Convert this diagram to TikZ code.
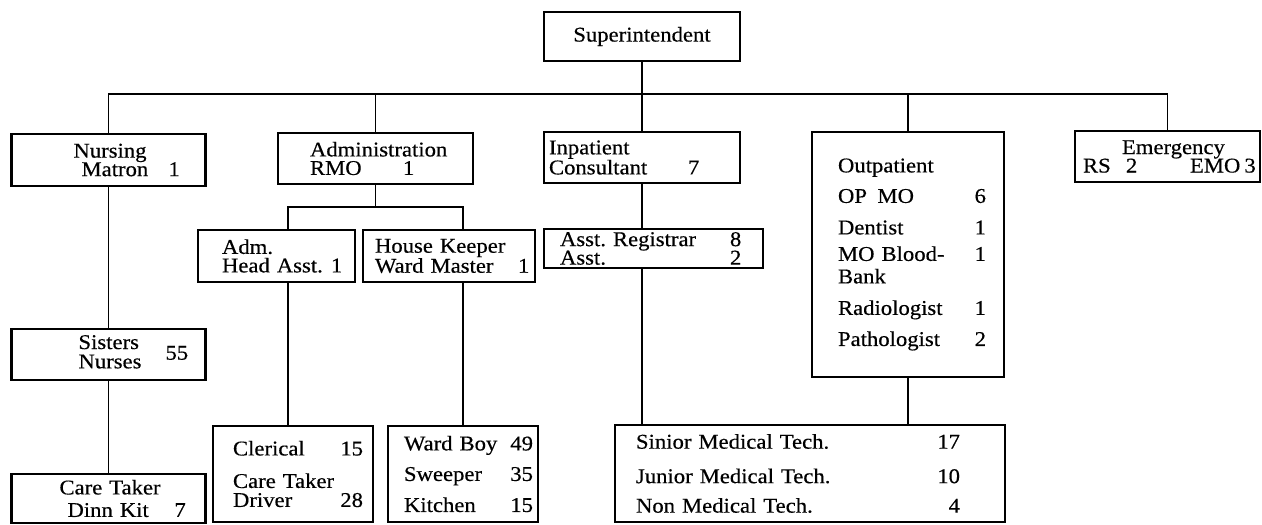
\documentclass[tikz,border=0pt]{standalone}
\usepackage{fontspec}
\setmainfont{Liberation Serif}[FakeStretch=1.08, FakeBold=0.4]
\setlength{\parindent}{0pt}
\setlength{\lineskiplimit}{-100pt}
\frenchspacing
\begin{document}
\begin{tikzpicture}[x=1pt, y=-1pt, line width=1.6pt, font=\fontsize{21}{18.5}\selectfont]
\tikzset{
	orgbox/.style={draw, line width=2.1pt, inner sep=0pt, align=left},
	orgtop/.style={draw, line width=2.1pt, inner sep=0pt, align=center}
}
\useasboundingbox (0,0) rectangle (1262,525);

\node[orgtop, minimum width=196pt, minimum height=49pt] (sup) at (642,36.5) {Superintendent};

\node[orgbox, text width=194pt, minimum height=52pt] (nurs) at (108.5,160)
{\hspace*{62pt}Nursing\\
\hspace*{70pt}\makebox[87pt][l]{Matron}1};

\node[orgbox, text width=195pt, minimum height=51pt] (admin) at (375.5,158.5)
{\hspace*{32pt}Administration\\
\hspace*{32pt}\makebox[93pt][l]{RMO}1};

\node[orgbox, text width=196pt, minimum height=51pt] (inp) at (642,157.5)
{\hspace*{5pt}Inpatient\\
\hspace*{5pt}\makebox[139pt][l]{Consultant}7};

\node[orgbox, text width=192pt, minimum height=245pt] (outp) at (908,254.5)
{\hspace*{26pt}Outpatient\\[12pt]
\hspace*{26pt}\makebox[138pt][l]{OP\enspace MO}\makebox[10pt][r]{6}\\[13pt]
\hspace*{26pt}\makebox[138pt][l]{Dentist}\makebox[10pt][r]{1}\\[8pt]
\hspace*{26pt}\makebox[138pt][l]{MO Blood-}\makebox[10pt][r]{1}\\[4pt]
\hspace*{26pt}Bank\\[13pt]
\hspace*{26pt}\makebox[138pt][l]{Radiologist}\makebox[10pt][r]{1}\\[11pt]
\hspace*{26pt}\makebox[138pt][l]{Pathologist}\makebox[10pt][r]{2}};

\node[orgbox, text width=185pt, minimum height=51pt] (emer) at (1167.5,156.5)
{\hspace*{47pt}Emergency\\
\hspace*{8pt}\makebox[43pt][l]{RS}\makebox[64pt][l]{2}EMO\hspace{4pt}3};

\node[orgbox, text width=157pt, minimum height=52pt] (adm) at (276.5,256)
{\hspace*{24pt}Adm.\\
\hspace*{24pt}\makebox[109pt][l]{Head Asst.}1};

\node[orgbox, text width=172pt, minimum height=52pt] (house) at (449,256)
{\hspace*{12pt}House Keeper\\
\hspace*{12pt}\makebox[143pt][l]{Ward Master}1};

\node[orgbox, text width=219pt, minimum height=39pt] (asst) at (653.5,248.5)
{\hspace*{16pt}\makebox[170pt][l]{Asst. Registrar}8\\
\hspace*{16pt}\makebox[170pt][l]{Asst.}2};

\node[orgbox, text width=194pt, minimum height=51pt] (sis) at (108.5,354.5)
{\hspace*{67pt}\begin{tabular}{@{}l@{}}Sisters\\Nurses\end{tabular}\hspace{24pt}55};

\node[orgbox, text width=194pt, minimum height=49pt] (care) at (108.5,498.5)
{\hspace*{48pt}Care Taker\\[4pt]
\hspace*{56pt}\makebox[107pt][l]{Dinn Kit}7};

\node[orgbox, text width=160pt, minimum height=96pt] (cler) at (293,474)
{\hspace*{20pt}\makebox[108pt][l]{Clerical}\makebox[22pt][r]{15}\\[14pt]
\hspace*{20pt}Care Taker\\[0.5pt]
\hspace*{20pt}\makebox[108pt][l]{Driver}\makebox[22pt][r]{28}};

\node[orgbox, text width=150pt, minimum height=96pt] (ward) at (463,474)
{\hspace*{16pt}\makebox[106pt][l]{Ward Boy}\makebox[23pt][r]{49}\\[12pt]
\hspace*{16pt}\makebox[106pt][l]{Sweeper}\makebox[23pt][r]{35}\\[11pt]
\hspace*{16pt}\makebox[106pt][l]{Kitchen}\makebox[23pt][r]{15}};

\node[orgbox, text width=390pt, minimum height=97pt] (tech) at (810,473.5)
{\hspace*{21pt}\makebox[302pt][l]{Sinior Medical Tech.}\makebox[22pt][r]{17}\\[16pt]
\hspace*{21pt}\makebox[302pt][l]{Junior Medical Tech.}\makebox[22pt][r]{10}\\[11pt]
\hspace*{21pt}\makebox[302pt][l]{Non Medical Tech.}\makebox[22pt][r]{4}};

\coordinate (bus) at (0,94);
\coordinate (admL) at (288,207);
\coordinate (admR) at (463,207);

\draw (sup.south) -- (sup.south |- bus);
\draw (nurs.north) |- (emer.north |- bus) -- (emer.north);
\foreach \n in {admin,inp,outp} \draw (\n.north) -- (\n.north |- bus);

\draw (admin.south) -- (admin.south |- admL);
\draw (adm.north -| admL) |- (admR) -- (house.north -| admR);
\draw (adm.south -| admL) -- (cler.north -| admL);
\draw (house.south -| admR) -- (ward.north -| admR);

\draw (nurs.south) -- (sis.north);
\draw (sis.south) -- (care.north);

\draw (inp.south) -- (inp.south |- asst.north);
\draw (inp.south |- asst.south) -- (inp.south |- tech.north);
\draw (outp.south) -- (outp.south |- tech.north);

\end{tikzpicture}
\end{document}
